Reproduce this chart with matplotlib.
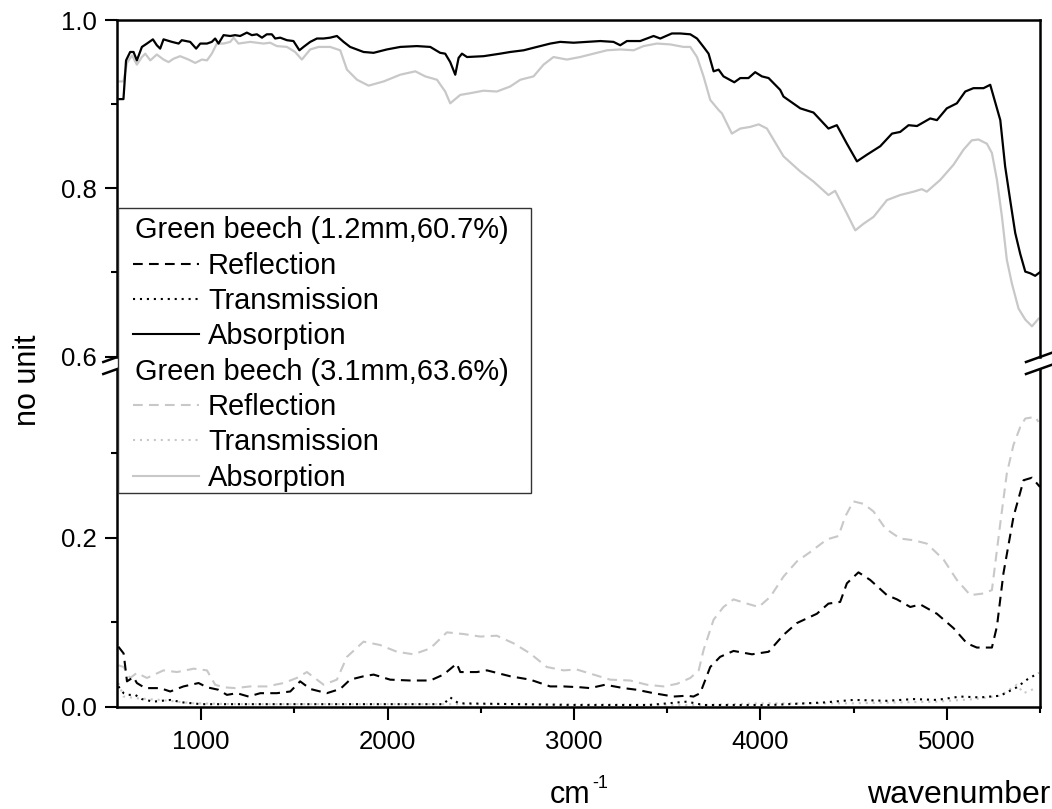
import matplotlib
matplotlib.use("Agg")
import matplotlib.pyplot as plt
from matplotlib.lines import Line2D
from matplotlib.patches import Rectangle

plt.rcParams['font.family'] = ['Liberation Sans', 'DejaVu Sans']
plt.rcParams['lines.scale_dashes'] = False

# absorption, green beech 1.2mm (black) and 3.1mm (gray)
abs12_x = [561, 583, 597, 619, 637, 655, 682, 709, 741, 762, 780, 798, 843, 879, 896, 941, 973, 995,
           1031, 1057, 1075, 1093, 1120, 1156, 1182, 1209, 1245, 1272, 1299, 1326, 1352, 1379, 1397,
           1424, 1460, 1495, 1527, 1549, 1585, 1621, 1656, 1692, 1728, 1764, 1799, 1871, 1925, 1996,
           2068, 2157, 2229, 2282, 2309, 2336, 2363, 2381, 2399, 2426, 2515, 2604, 2658, 2730, 2801,
           2873, 2926, 2998, 3069, 3141, 3212, 3248, 3284, 3355, 3427, 3463, 3525, 3570, 3624, 3660,
           3695, 3722, 3749, 3776, 3802, 3860, 3892, 3936, 3972, 4008, 4044, 4106, 4124, 4214, 4285,
           4365, 4410, 4464, 4518, 4572, 4643, 4706, 4750, 4795, 4840, 4911, 4947, 5000, 5054, 5099,
           5143, 5197, 5233, 5251, 5287, 5313, 5340, 5367, 5394, 5421, 5448, 5474, 5498]
abs12_y = [.906, .906, .952, .962, .962, .952, .968, .972, .977, .970, .966, .977, .974, .972, .976, .974, .966, .972,
           .972, .974, .978, .972, .982, .981, .982, .981, .985, .982, .983, .979, .983, .983, .978,
           .979, .976, .975, .964, .968, .974, .978, .978, .979, .981, .974, .968, .962, .961, .965,
           .968, .969, .968, .961, .960, .950, .935, .955, .960, .956, .957, .960, .962, .964, .968,
           .972, .974, .973, .974, .975, .974, .970, .975, .975, .981, .978, .984, .984, .983, .978,
           .968, .960, .939, .941, .933, .926, .931, .931, .938, .933, .931, .917, .909, .895, .890,
           .871, .875, .853, .832, .840, .850, .865, .867, .875, .874, .883, .881, .895, .901, .915,
           .919, .919, .923, .909, .881, .826, .786, .747, .722, .701, .699, .696, .700]

abs31_x = [561, 583, 602, 629, 655, 682, 700, 727, 762, 798, 825, 852, 887, 932, 968, 1004, 1031, 1057,
           1084, 1120, 1156, 1174, 1200, 1263, 1334, 1370, 1406, 1460, 1504, 1540, 1585, 1630, 1692,
           1746, 1782, 1836, 1898, 1979, 2068, 2149, 2202, 2265, 2309, 2336, 2390, 2443, 2515, 2586,
           2658, 2712, 2783, 2837, 2890, 2962, 3033, 3105, 3177, 3248, 3320, 3373, 3445, 3516, 3588,
           3624, 3660, 3695, 3731, 3776, 3794, 3847, 3892, 3946, 3991, 4035, 4124, 4214, 4285, 4365,
           4401, 4464, 4509, 4554, 4607, 4679, 4750, 4822, 4866, 4893, 4965, 5036, 5090, 5134, 5170,
           5215, 5242, 5269, 5296, 5322, 5349, 5385, 5421, 5457, 5492]
abs31_y = [.927, .927, .949, .958, .947, .956, .960, .952, .959, .953, .950, .954, .957, .953, .949, .953, .952, .960,
           .972, .972, .974, .979, .972, .974, .972, .973, .969, .968, .962, .953, .965, .968, .968,
           .964, .941, .929, .922, .927, .935, .939, .933, .929, .915, .901, .911, .913, .916, .915,
           .921, .929, .933, .947, .956, .953, .956, .960, .964, .965, .964, .969, .972, .971, .968,
           .968, .956, .933, .905, .893, .889, .865, .871, .873, .876, .871, .838, .820, .808, .792,
           .797, .770, .750, .758, .766, .786, .792, .796, .799, .796, .810, .828, .846, .857, .858,
           .853, .842, .810, .766, .715, .687, .657, .644, .636, .645]

# reflection
ref12_x = [556, 584, 602, 637, 655, 700, 780, 834, 905, 986, 1031, 1093, 1138, 1192, 1254, 1317, 1406,
           1478, 1531, 1585, 1674, 1746, 1799, 1871, 1925, 2014, 2121, 2229, 2300, 2371, 2390, 2479,
           2533, 2658, 2765, 2872, 2944, 3033, 3087, 3167, 3266, 3338, 3427, 3534, 3606, 3641, 3677,
           3731, 3784, 3856, 3955, 4044, 4124, 4196, 4303, 4365, 4428, 4464, 4526, 4589, 4679, 4733,
           4804, 4858, 4947, 5036, 5108, 5161, 5242, 5269, 5304, 5358, 5412, 5457, 5500]
ref12_y = [.071, .063, .030, .035, .028, .022, .022, .018, .024, .028, .023, .020, .014, .016, .012, .016, .016,
           .018, .030, .021, .016, .021, .032, .036, .038, .032, .031, .031, .038, .051, .041, .041,
           .043, .036, .032, .024, .024, .023, .022, .026, .022, .020, .016, .012, .013, .012, .016,
           .047, .059, .066, .062, .065, .085, .099, .110, .122, .124, .146, .159, .150, .132, .127,
           .118, .121, .110, .093, .075, .070, .070, .095, .158, .225, .268, .271, .260]

ref31_x = [556, 584, 619, 655, 709, 798, 870, 960, 1031, 1075, 1120, 1182, 1263, 1352, 1442, 1513, 1567,
           1657, 1728, 1782, 1871, 1960, 2050, 2139, 2229, 2318, 2407, 2497, 2586, 2676, 2765, 2854,
           2944, 3015, 3105, 3194, 3302, 3391, 3480, 3552, 3624, 3669, 3695, 3749, 3802, 3856, 3928,
           3991, 4053, 4124, 4196, 4267, 4357, 4419, 4455, 4499, 4554, 4607, 4670, 4750, 4822, 4893,
           4983, 5054, 5126, 5197, 5242, 5287, 5322, 5358, 5394, 5421, 5474, 5492]
ref31_y = [.049, .047, .034, .040, .034, .043, .041, .045, .043, .026, .023, .022, .024, .024, .028, .034, .041,
           .026, .032, .059, .077, .073, .065, .062, .069, .088, .086, .083, .084, .075, .063, .047,
           .043, .044, .038, .032, .031, .026, .024, .027, .034, .043, .067, .103, .118, .127, .122,
           .118, .130, .154, .172, .183, .198, .202, .225, .243, .240, .231, .211, .199, .197, .193,
           .174, .150, .132, .134, .138, .217, .276, .310, .331, .341, .343, .337]

# transmission
tra12_x = [556, 584, 610, 646, 682, 744, 834, 905, 1000, 1500, 2000, 2300, 2336, 2381, 2700, 3000, 3400,
           3606, 3695, 4053, 4339, 4499, 4679, 4822, 4947, 5072, 5179, 5287, 5376, 5430, 5492]
tra12_y = [.024, .016, .014, .014, .009, .006, .008, .005, .003, .003, .003, .003, .011, .004, .003, .002, .002,
           .006, .002, .002, .005, .008, .007, .009, .008, .012, .011, .013, .023, .032, .040]

tra31_x = [556, 584, 655, 780, 960, 1200, 2000, 2800, 3700, 4000, 4500, 4947, 5150, 5287, 5376, 5412, 5467]
tra31_y = [.028, .012, .010, .008, .004, .003, .003, .003, .002, .004, .004, .006, .009, .013, .026, .016, .021]

BLACK = '#000000'
GRAY = '#c8c8c8'
DASH = (0, (7, 4.5))
DOT = (0, (1.5, 3.5))

W, H = 1052, 809
fig = plt.figure(figsize=(W / 100, H / 100), dpi=100)


def fx(px):
    return px / W


def fy(py):
    return 1 - py / H


L, R = 117.3, 1040
ax_top = fig.add_axes([fx(L), fy(356.6), fx(R) - fx(L), fy(20) - fy(356.6)])
ax_bot = fig.add_axes([fx(L), fy(706.7), fx(R) - fx(L), fy(368.7) - fy(706.7)])

ax_top.plot(abs31_x, abs31_y, color=GRAY, lw=1.6)
ax_top.plot(abs12_x, abs12_y, color=BLACK, lw=1.6)
ax_bot.plot(ref31_x, ref31_y, color=GRAY, lw=1.5, ls=DASH)
ax_bot.plot(tra31_x, tra31_y, color=GRAY, lw=1.5, ls=DOT)
ax_bot.plot(ref12_x, ref12_y, color=BLACK, lw=1.5, ls=DASH)
ax_bot.plot(tra12_x, tra12_y, color=BLACK, lw=1.5, ls=DOT)

for ax in (ax_top, ax_bot):
    ax.set_xlim(550, 5500)
    for s in ax.spines.values():
        s.set_linewidth(1.8)
    ax.tick_params(which='major', direction='out', length=9, width=1.5, labelsize=18.5, pad=6)
    ax.tick_params(which='minor', direction='out', length=4.5, width=1.5)

ax_top.set_ylim(0.6, 1.0)
ax_top.spines['bottom'].set_visible(False)
ax_top.tick_params(axis='x', which='both', bottom=False, labelbottom=False)
ax_top.set_yticks([0.6, 0.8, 1.0])
ax_top.set_yticks([0.7, 0.9], minor=True)
ax_top.set_yticklabels(['0.6', '0.8', '1.0'])

ax_bot.set_ylim(0.0, 0.4)
ax_bot.spines['top'].set_visible(False)
ax_bot.set_yticks([0.0, 0.2])
ax_bot.set_yticks([0.1, 0.3], minor=True)
ax_bot.set_yticklabels(['0.0', '0.2'])
ax_bot.set_xticks([1000, 2000, 3000, 4000, 5000])
ax_bot.set_xticks([1500, 2500, 3500, 4500, 5500], minor=True)
ax_bot.tick_params(axis='x', which='major', pad=8)

# axis break marks
for cx in (L, R):
    for cy in (357, 369):
        fig.add_artist(Line2D([fx(cx - 14), fx(cx + 14)], [fy(cy + 5), fy(cy - 5)],
                              transform=fig.transFigure, color='black', lw=1.8))

# legend drawn by hand, two groups with a header line each
fig.add_artist(Rectangle((fx(118), fy(493)), fx(531) - fx(118), fy(208) - fy(493),
                         transform=fig.transFigure, facecolor='white', edgecolor='#333333',
                         lw=1.0, zorder=5))
rows = [('Green beech (1.2mm,60.7%)', None, None),
        ('Reflection', BLACK, DASH),
        ('Transmission', BLACK, DOT),
        ('Absorption', BLACK, '-'),
        ('Green beech (3.1mm,63.6%)', None, None),
        ('Reflection', GRAY, DASH),
        ('Transmission', GRAY, DOT),
        ('Absorption', GRAY, '-')]
for i, (label, col, style) in enumerate(rows):
    base = 238.5 + 35.3 * i
    if col is None:
        fig.text(fx(135), fy(base), label, fontsize=20.9, va='baseline', zorder=6)
    else:
        fig.add_artist(Line2D([fx(133), fx(199)], [fy(base - 10), fy(base - 10)],
                              transform=fig.transFigure, color=col, ls=style, lw=1.5, zorder=6))
        fig.text(fx(208), fy(base), label, fontsize=20.9, va='baseline', zorder=6)

fig.text(fx(28), fy(380), 'no unit', rotation=90, va='center', ha='center', fontsize=22)
fig.text(fx(550), fy(803), 'cm', va='baseline', fontsize=22)
fig.text(fx(592), fy(788), '-1', va='baseline', fontsize=13)
fig.text(fx(867), fy(803), 'wavenumber', va='baseline', fontsize=23)

fig.savefig('out.png', dpi=100)
